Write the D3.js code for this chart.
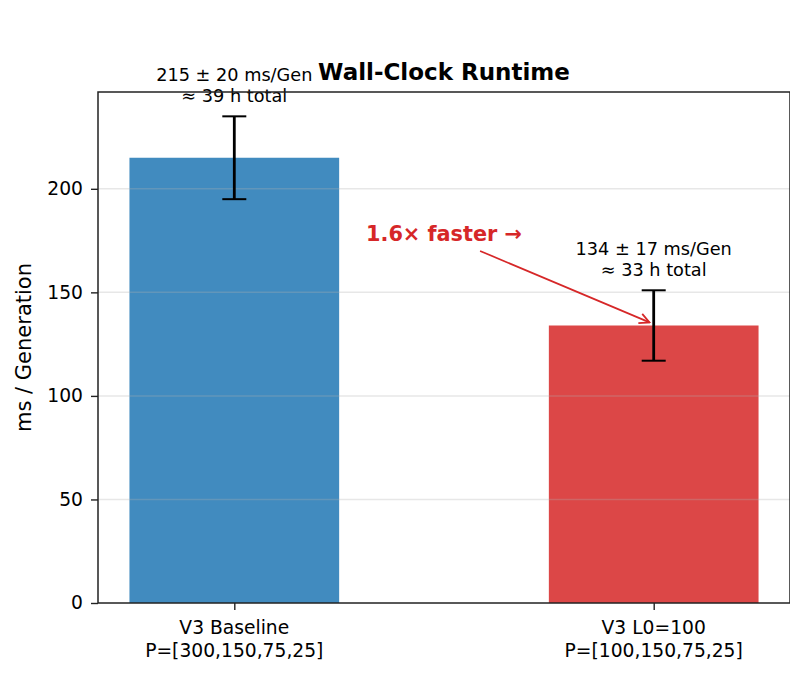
<!DOCTYPE html>
<html>
<head>
<meta charset="utf-8">
<script src="https://cdn.jsdelivr.net/npm/d3@7"></script>
<style>
  body { margin: 0; background: #fff; }
  text { font-family: "DejaVu Sans", sans-serif; }
</style>
</head>
<body>
<div id="chart"></div>
<script>
// chart data
const categories = ["V3 Baseline", "V3 L0=100"];
const subLabels = ["P=[300,150,75,25]", "P=[100,150,75,25]"];
const meanMs = [215, 134];
const stdMs = [20, 17];
const totalHours = [39, 33];
const barColors = ["#418bbf", "#dc4747"];
const yTicks = [0, 50, 100, 150, 200];
const speedupLabel = "1.6\u00d7 faster \u2192";

const width = 790, height = 674;
const margin = { top: 92, right: 0, bottom: 71, left: 98 };
const plotW = width - margin.left - margin.right;
const plotH = height - margin.top - margin.bottom;

const svg = d3.select('#chart').append('svg')
    .attr('width', width)
    .attr('height', height);

const g = svg.append('g')
    .attr('transform', `translate(${margin.left},${margin.top})`);

// bars at x = 0, 1 with width 0.5, matplotlib-style margins
const x = d3.scaleLinear().domain([-0.325, 1.325]).range([0, plotW]);
const yMax = (meanMs[0] + stdMs[0]) * 1.05;
const y = d3.scaleLinear().domain([0, yMax]).range([plotH, 0]);
const barW = 0.5;

// bars
g.selectAll('rect.bar')
    .data(meanMs)
    .enter().append('rect')
    .attr('class', 'bar')
    .attr('x', (d, i) => x(i - barW / 2))
    .attr('width', x(barW) - x(0))
    .attr('y', d => y(d))
    .attr('height', d => y(0) - y(d))
    .attr('fill', (d, i) => barColors[i]);

// grid on top of bars
g.append('g')
    .selectAll('line')
    .data(yTicks.filter(t => t > 0))
    .enter().append('line')
    .attr('x1', 0).attr('x2', plotW)
    .attr('y1', d => y(d)).attr('y2', d => y(d))
    .attr('stroke', '#b0b0b0')
    .attr('stroke-opacity', 0.3)
    .attr('stroke-width', 1.5);

// error bars
const capHalf = 12;
const err = g.append('g').selectAll('g')
    .data(meanMs)
    .enter().append('g');
err.append('line')
    .attr('x1', (d, i) => x(i)).attr('x2', (d, i) => x(i))
    .attr('y1', (d, i) => y(d - stdMs[i]))
    .attr('y2', (d, i) => y(d + stdMs[i]))
    .attr('stroke', '#000').attr('stroke-width', 2.8);
[-1, 1].forEach(s => {
    err.append('line')
        .attr('x1', (d, i) => x(i) - capHalf).attr('x2', (d, i) => x(i) + capHalf)
        .attr('y1', (d, i) => y(d + s * stdMs[i]))
        .attr('y2', (d, i) => y(d + s * stdMs[i]))
        .attr('stroke', '#000').attr('stroke-width', 2);
});

// value labels above error bars
const lbl = g.append('g').selectAll('text')
    .data(meanMs)
    .enter().append('text')
    .attr('text-anchor', 'middle')
    .attr('font-size', 17.7)
    .attr('fill', '#000');
lbl.append('tspan')
    .attr('x', (d, i) => x(i))
    .attr('y', (d, i) => y(d + stdMs[i]) - 35)
    .text((d, i) => `${d} \u00b1 ${stdMs[i]} ms/Gen`);
lbl.append('tspan')
    .attr('x', (d, i) => x(i))
    .attr('y', (d, i) => y(d + stdMs[i]) - 14)
    .text((d, i) => `\u2248 ${totalHours[i]} h total`);

// y axis
const yAxis = g.append('g')
    .call(d3.axisLeft(y).tickValues(yTicks).tickSize(7).tickPadding(8));
yAxis.select('.domain').remove();
yAxis.selectAll('.tick line').attr('stroke', '#222').attr('stroke-width', 1.4);
yAxis.selectAll('.tick text')
    .attr('font-size', 18.7)
    .attr('font-family', '"DejaVu Sans", sans-serif')
    .attr('fill', '#000');

// x axis
const xAxis = g.append('g')
    .attr('transform', `translate(0,${plotH})`)
    .call(d3.axisBottom(x).tickValues([0, 1]).tickSize(7).tickFormat(() => ''));
xAxis.select('.domain').remove();
xAxis.selectAll('.tick line').attr('stroke', '#222').attr('stroke-width', 1.4);
const xl = g.append('g').selectAll('text')
    .data(categories)
    .enter().append('text')
    .attr('text-anchor', 'middle')
    .attr('font-size', 18.7)
    .attr('fill', '#000');
xl.append('tspan')
    .attr('x', (d, i) => x(i)).attr('y', plotH + 31)
    .text(d => d);
xl.append('tspan')
    .attr('x', (d, i) => x(i)).attr('y', plotH + 54)
    .text((d, i) => subLabels[i]);

// frame
g.append('rect')
    .attr('x', 0).attr('y', 0)
    .attr('width', plotW).attr('height', plotH)
    .attr('fill', 'none')
    .attr('stroke', '#222')
    .attr('stroke-width', 1.5);

// y label
svg.append('text')
    .attr('transform', `translate(31,${margin.top + plotH / 2}) rotate(-90)`)
    .attr('text-anchor', 'middle')
    .attr('font-size', 21)
    .attr('fill', '#000')
    .text('ms / Generation');

// title
svg.append('text')
    .attr('x', margin.left + plotW / 2)
    .attr('y', 80)
    .attr('text-anchor', 'middle')
    .attr('font-size', 23)
    .attr('font-weight', 'bold')
    .attr('fill', '#000')
    .text('Wall-Clock Runtime');

// speedup annotation
svg.append('defs').append('marker')
    .attr('id', 'arrowhead')
    .attr('viewBox', '0 0 12 12')
    .attr('refX', 11).attr('refY', 6)
    .attr('markerWidth', 12).attr('markerHeight', 12)
    .attr('markerUnits', 'userSpaceOnUse')
    .attr('orient', 'auto')
    .append('path')
    .attr('d', 'M1,1 L11,6 L1,11')
    .attr('fill', 'none')
    .attr('stroke', '#d62728')
    .attr('stroke-width', 1.8);

g.append('line')
    .attr('x1', x(0.586)).attr('y1', y(170))
    .attr('x2', x(0.99)).attr('y2', y(135.5))
    .attr('stroke', '#d62728')
    .attr('stroke-width', 1.7)
    .attr('marker-end', 'url(#arrowhead)');

g.append('text')
    .attr('x', x(0.5))
    .attr('y', y(175))
    .attr('text-anchor', 'middle')
    .attr('font-size', 20.8)
    .attr('font-weight', 'bold')
    .attr('fill', '#d62728')
    .text(speedupLabel);
</script>
</body>
</html>
